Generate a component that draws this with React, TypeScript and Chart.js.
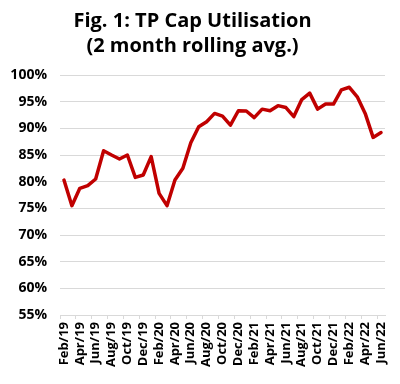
import React, { useEffect, useRef } from 'react';
import { Chart, registerables } from 'chart.js';
Chart.register(...registerables);

const titleLines = ['Fig. 1: TP Cap Utilisation', '(2 month rolling avg.)'];

const months = [
  'Feb/19', 'Mar/19', 'Apr/19', 'May/19', 'Jun/19', 'Jul/19', 'Aug/19', 'Sep/19', 'Oct/19', 'Nov/19', 'Dec/19',
  'Jan/20', 'Feb/20', 'Mar/20', 'Apr/20', 'May/20', 'Jun/20', 'Jul/20', 'Aug/20', 'Sep/20', 'Oct/20', 'Nov/20', 'Dec/20',
  'Jan/21', 'Feb/21', 'Mar/21', 'Apr/21', 'May/21', 'Jun/21', 'Jul/21', 'Aug/21', 'Sep/21', 'Oct/21', 'Nov/21', 'Dec/21',
  'Jan/22', 'Feb/22', 'Mar/22', 'Apr/22', 'May/22', 'Jun/22',
];

const utilisation = [
  80.3, 75.5, 78.75, 79.25, 80.5, 85.8, 85.0, 84.25, 85.0, 80.8, 81.25,
  84.7, 77.8, 75.5, 80.3, 82.5, 87.3, 90.3, 91.25, 92.8, 92.3, 90.6, 93.3,
  93.25, 92.0, 93.6, 93.3, 94.25, 93.9, 92.2, 95.4, 96.6, 93.6, 94.55, 94.55,
  97.2, 97.7, 95.9, 92.8, 88.3, 89.2,
];

const yMin = 55;
const yMax = 100;
const yStep = 5;

export default function App() {
  const ref = useRef<HTMLCanvasElement>(null);
  useEffect(() => {
    if (!ref.current) return;
    Chart.defaults.font.family = '"Open Sans", "DejaVu Sans", sans-serif';
    const chart = new Chart(ref.current, {
      type: 'line',
      data: {
        labels: months,
        datasets: [
          {
            data: utilisation,
            borderColor: '#C00000',
            backgroundColor: '#C00000',
            borderWidth: 3.5,
            pointRadius: 0,
            tension: 0,
            borderJoinStyle: 'round',
            borderCapStyle: 'round',
          },
        ],
      },
      options: {
        responsive: false,
        animation: false,
        layout: { padding: { left: 0, right: 15, top: 0, bottom: 0 } },
        plugins: {
          legend: { display: false },
          tooltip: { enabled: false },
          title: {
            display: true,
            text: titleLines,
            color: '#000',
            font: { size: 20, weight: 'bold', lineHeight: 1.25 },
            padding: { top: 9, bottom: 16 },
          },
        },
        scales: {
          x: {
            offset: true,
            afterFit: (s: any) => { s.height = 69; },
            grid: {
              offset: true,
              drawOnChartArea: false,
              drawTicks: true,
              tickLength: 4,
              color: (ctx: any) => (ctx.index % 2 === 0 ? '#d9d9d9' : 'rgba(0,0,0,0)'),
            },
            border: { display: true, color: '#d9d9d9' },
            ticks: {
              autoSkip: false,
              minRotation: 90,
              maxRotation: 90,
              padding: 3,
              color: '#000',
              font: { size: 13, weight: 'bold' },
              callback: (_v: any, i: number) => (i % 2 === 0 ? months[i] : ''),
            },
          },
          y: {
            min: yMin,
            max: yMax,
            afterFit: (s: any) => { s.width = 60; },
            grid: { color: '#d9d9d9', drawTicks: false },
            border: { display: false },
            ticks: {
              stepSize: yStep,
              padding: 13,
              color: '#000',
              font: { size: 14, weight: 'bold' },
              callback: (v: any) => `${v}%`,
            },
          },
        },
      },
    });
    return () => chart.destroy();
  }, []);
  return (
    <div style={{ position: 'fixed', left: 0, top: 0, width: 400, height: 384, background: '#fff' }}>
      <canvas ref={ref} width={400} height={384} />
    </div>
  );
}
